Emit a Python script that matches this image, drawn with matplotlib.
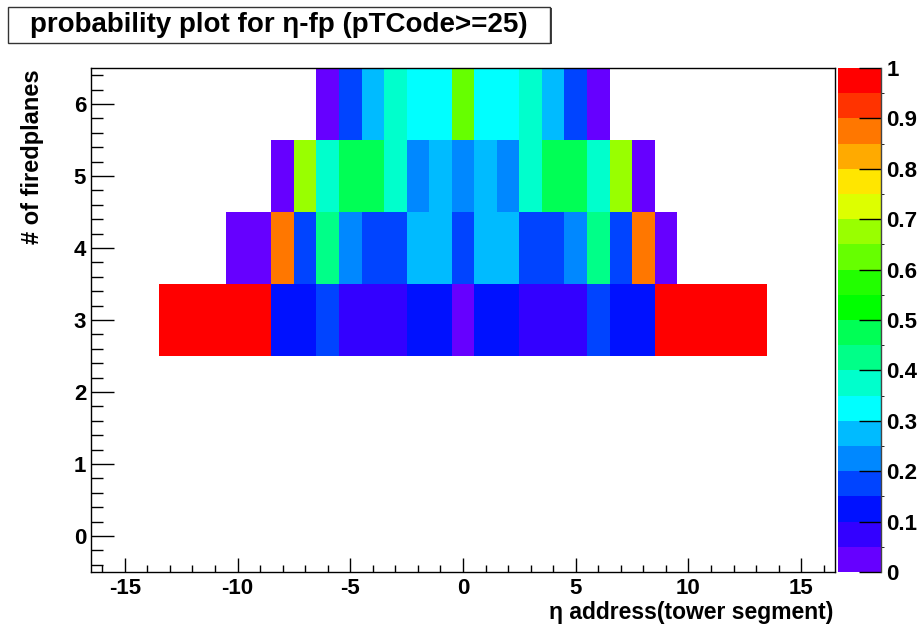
import numpy as np
import matplotlib
matplotlib.use('Agg')
import matplotlib.pyplot as plt
from matplotlib.colors import ListedColormap, BoundaryNorm
from matplotlib.patches import Rectangle
from matplotlib.ticker import MultipleLocator

plt.rcParams['font.family'] = ['Liberation Sans', 'DejaVu Sans']
plt.rcParams['axes.unicode_minus'] = False

# ---------------- data ----------------
x_range = (-16.5, 16.5)          # eta address axis (bins of width 1)
y_range = (-0.5, 6.5)            # number of fired planes (bins of width 1)

planes = [3, 4, 5, 6]

eta_row3 = list(range(-13, 14))
prob_row3 = [1.0, 1.0, 1.0, 1.0, 1.0, 0.125, 0.125, 0.175, 0.075, 0.075, 0.075,
             0.125, 0.125, 0.025, 0.125, 0.125, 0.075, 0.075, 0.075, 0.175,
             0.125, 0.125, 1.0, 1.0, 1.0, 1.0, 1.0]

eta_row4 = list(range(-10, 10))
prob_row4 = [0.025, 0.025, 0.875, 0.175, 0.425, 0.225, 0.175, 0.175, 0.275, 0.275,
             0.175, 0.275, 0.275, 0.175, 0.175, 0.225, 0.425, 0.175, 0.875, 0.025]

eta_row5 = list(range(-8, 9))
prob_row5 = [0.025, 0.675, 0.375, 0.475, 0.475, 0.375, 0.225, 0.275, 0.225,
             0.275, 0.225, 0.375, 0.475, 0.475, 0.375, 0.675, 0.025]

eta_row6 = list(range(-6, 7))
prob_row6 = [0.025, 0.175, 0.275, 0.375, 0.325, 0.325, 0.625, 0.325, 0.325,
             0.375, 0.275, 0.175, 0.025]

palette = ['#6600FF', '#3300FF', '#0011FF', '#0044FF', '#0088FF', '#00BBFF',
           '#00FFFF', '#00FFCC', '#00FF88', '#00FF55', '#00FF00', '#22FF00',
           '#66FF00', '#99FF00', '#DDFF00', '#FFE600', '#FFAA00', '#FF7700',
           '#FF3300', '#FF0000']
levels = np.linspace(0, 1, len(palette) + 1)
cbar_ticks = [0, 0.1, 0.2, 0.3, 0.4, 0.5, 0.6, 0.7, 0.8, 0.9, 1.0]
cbar_ticklabels = ['0', '0.1', '0.2', '0.3', '0.4', '0.5', '0.6', '0.7', '0.8', '0.9', '1']

# ---------------- grid ----------------
x_edges = np.arange(x_range[0], x_range[1] + 0.5, 1.0)
y_edges = np.arange(y_range[0], y_range[1] + 0.5, 1.0)
x_centers = (x_edges[:-1] + x_edges[1:]) / 2
y_centers = (y_edges[:-1] + y_edges[1:]) / 2
Z = np.full((len(y_centers), len(x_centers)), np.nan)
for p, etas, probs in zip(planes, [eta_row3, eta_row4, eta_row5, eta_row6],
                          [prob_row3, prob_row4, prob_row5, prob_row6]):
    iy = int(np.argmin(np.abs(y_centers - p)))
    for e, v in zip(etas, probs):
        ix = int(np.argmin(np.abs(x_centers - e)))
        Z[iy, ix] = v
Z = np.ma.masked_invalid(Z)

cmap = ListedColormap(palette)
norm = BoundaryNorm(levels, cmap.N)

W, H = 920, 629
fig = plt.figure(figsize=(W / 100, H / 100), dpi=100)

def px(l, t, r, b):
    return [l / W, 1 - b / H, (r - l) / W, (b - t) / H]

ax = fig.add_axes(px(91, 68, 835, 572))
mesh = ax.pcolormesh(x_edges, y_edges, Z, cmap=cmap, norm=norm,
                     edgecolors='none', antialiased=False)
ax.set_xlim(*x_range)
ax.set_ylim(*y_range)

ax.xaxis.set_major_locator(MultipleLocator(5))
ax.xaxis.set_minor_locator(MultipleLocator(1))
ax.yaxis.set_major_locator(MultipleLocator(1))
ax.yaxis.set_minor_locator(MultipleLocator(0.2))
ax.tick_params(which='both', direction='in', top=False, right=False,
               width=1, color='black')
ax.tick_params(axis='y', which='major', length=16.5, labelsize=16, pad=3.5)
ax.tick_params(axis='y', which='minor', length=8.5)
ax.tick_params(axis='x', which='major', length=10, labelsize=16, pad=4.5)
ax.tick_params(axis='x', which='minor', length=5)
for lab in ax.get_xticklabels() + ax.get_yticklabels():
    lab.set_fontweight('bold')
for s in ax.spines.values():
    s.set_linewidth(1.0)

fig.text(833 / W, 1 - 612 / H, 'η address(tower segment)', ha='right', va='center',
         fontsize=16.5, fontweight='bold')
fig.text(33 / W, 1 - 69 / H, '# of firedplanes', ha='center', va='top',
         rotation=90, fontsize=17, fontweight='bold')

cax = fig.add_axes(px(838, 68, 881, 572))
cb = fig.colorbar(mesh, cax=cax, ticks=cbar_ticks)
cb.outline.set_visible(False)
cax.set_yticklabels(cbar_ticklabels)
cax.tick_params(axis='y', direction='in', length=16, width=1, labelsize=16, pad=4)
for lab in cax.get_yticklabels():
    lab.set_fontweight('bold')
cax.plot([1, 1], [0, 1], transform=cax.transAxes, color='#444444', lw=1, clip_on=False)

# title box with slight shadow
fig.patches.append(Rectangle((9 / W, 1 - 44 / H), 543 / W, 36 / H,
                             transform=fig.transFigure, facecolor='#444444',
                             edgecolor='none', zorder=1))
fig.patches.append(Rectangle((8 / W, 1 - 43 / H), 542 / W, 36 / H,
                             transform=fig.transFigure, facecolor='white',
                             edgecolor='#333333', lw=1, zorder=2))
fig.text(279 / W, 1 - 25.5 / H, 'probability plot for η-fp (pTCode>=25)',
         ha='center', va='center', fontsize=20, fontweight='bold', zorder=3)

fig.savefig('out.png', dpi=100)
